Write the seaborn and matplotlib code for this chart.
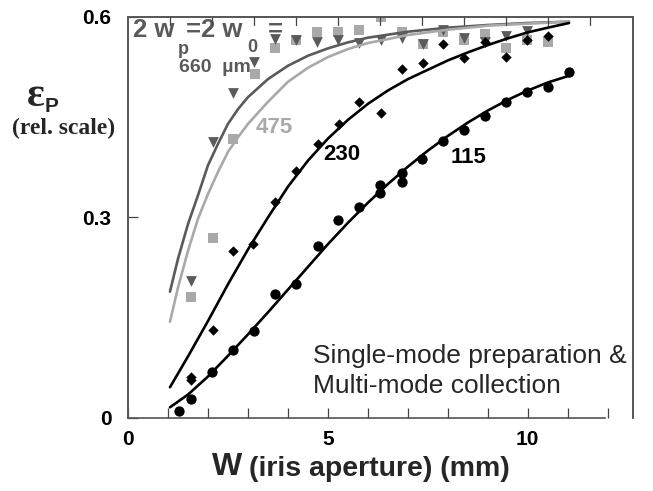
import pandas as pd
import seaborn as sns
import matplotlib
matplotlib.use("Agg")
import matplotlib.pyplot as plt
from matplotlib.lines import Line2D
from matplotlib.transforms import blended_transform_factory

# measured points (iris aperture W in mm, relative efficiency)
w_115 = [1.27, 1.58, 2.10, 2.62, 3.15, 3.68, 4.20, 4.75, 5.25, 5.78, 6.30, 6.30,
         6.85, 6.85, 7.35, 7.88, 8.40, 8.93, 9.45, 9.98, 10.50, 11.03]
eff_115 = [0.010, 0.028, 0.069, 0.102, 0.130, 0.186, 0.200, 0.257, 0.296, 0.316, 0.349, 0.337,
           0.367, 0.353, 0.388, 0.415, 0.431, 0.452, 0.473, 0.488, 0.495, 0.518]

w_230 = [1.58, 1.58, 2.12, 2.62, 3.13, 3.67, 4.20, 4.75, 5.28, 5.78, 6.33, 6.85,
         7.37, 7.88, 8.40, 8.93, 9.45, 9.98, 10.50]
eff_230 = [0.062, 0.057, 0.132, 0.250, 0.260, 0.323, 0.370, 0.410, 0.440, 0.473, 0.457, 0.522,
           0.531, 0.560, 0.539, 0.562, 0.540, 0.566, 0.572]

w_475 = [1.58, 2.12, 2.63, 3.17, 3.68, 4.20, 4.73, 5.25, 5.78, 6.33, 6.85, 7.37,
         7.88, 8.40, 8.93, 9.45, 9.98, 10.50]
eff_475 = [0.181, 0.270, 0.417, 0.515, 0.554, 0.566, 0.578, 0.578, 0.580, 0.600, 0.577, 0.560,
           0.577, 0.565, 0.575, 0.553, 0.566, 0.562]

w_660 = [1.58, 2.12, 2.63, 3.15, 3.68, 4.20, 4.73, 5.25, 5.78, 6.33, 6.85, 7.37,
         7.88, 8.40, 8.93, 9.45, 9.98]
eff_660 = [0.205, 0.413, 0.486, 0.533, 0.567, 0.566, 0.563, 0.565, 0.561, 0.565, 0.568, 0.560,
           0.580, 0.568, 0.562, 0.572, 0.579]

# fitted model curves
fit_x_115 = [1.05, 1.5, 2.0, 2.5, 3.0, 3.5, 4.0, 4.5, 5.0, 5.5, 6.0,
             6.5, 7.0, 7.5, 8.0, 8.5, 9.0, 9.5, 10.0, 10.5, 11.03]
fit_y_115 = [0.016, 0.035, 0.062, 0.093, 0.125, 0.158, 0.192, 0.226, 0.260, 0.292, 0.322,
             0.350, 0.376, 0.400, 0.422, 0.442, 0.460, 0.476, 0.490, 0.502, 0.512]

fit_x_230 = [1.05, 1.5, 2.0, 2.5, 3.0, 3.5, 4.0, 4.5, 5.0, 5.5, 6.0,
             6.5, 7.0, 7.5, 8.0, 8.5, 9.0, 9.5, 10.0, 10.5, 11.03]
fit_y_230 = [0.046, 0.092, 0.145, 0.200, 0.252, 0.300, 0.346, 0.385, 0.418, 0.446, 0.470,
             0.490, 0.507, 0.521, 0.535, 0.547, 0.558, 0.568, 0.577, 0.584, 0.591]

fit_x_475 = [1.05, 1.25, 1.5, 1.75, 2.0, 2.25, 2.5, 2.75, 3.0, 3.5, 4.0,
             4.5, 5.0, 5.5, 6.0, 7.0, 8.0, 9.0, 10.0, 11.03]
fit_y_475 = [0.144, 0.195, 0.250, 0.298, 0.335, 0.368, 0.398, 0.420, 0.440, 0.473, 0.503,
             0.524, 0.540, 0.552, 0.561, 0.573, 0.581, 0.587, 0.590, 0.593]

fit_x_660 = [1.05, 1.25, 1.5, 1.75, 2.0, 2.25, 2.5, 2.75, 3.0, 3.5, 4.0,
             4.5, 5.0, 5.5, 6.0, 7.0, 8.0, 9.0, 10.0, 11.03]
fit_y_660 = [0.189, 0.238, 0.290, 0.333, 0.378, 0.410, 0.440, 0.462, 0.480, 0.507, 0.527,
             0.542, 0.553, 0.562, 0.569, 0.578, 0.584, 0.588, 0.591, 0.593]

x_tick_labels = ["0", "", "", "", "", "5", "", "", "", "", "10", "", ""]
y_ticks = [0, 0.3, 0.6]
y_tick_labels = ["0", "0.3", "0.6"]
# top ticks of the original frame are spaced 1.05 bottom units apart
top_ticks = [1.05 * k for k in range(1, 12)]

DARK = "#5a5a5a"
LIGHT = "#a9a9a9"
FRAME = "#555555"

sns.set_style("white")
plt.rcParams["font.family"] = ["Liberation Sans", "DejaVu Sans"]

fig = plt.figure(figsize=(6.53, 4.91), dpi=100)
ax = fig.add_axes([0.196, 0.1487, 0.773, 0.8167])

sns.lineplot(x=fit_x_660, y=fit_y_660, ax=ax, color=DARK, lw=1.9, sort=False, estimator=None)
sns.lineplot(x=fit_x_475, y=fit_y_475, ax=ax, color=LIGHT, lw=1.9, sort=False, estimator=None)
sns.lineplot(x=fit_x_230, y=fit_y_230, ax=ax, color="black", lw=1.9, sort=False, estimator=None)
sns.lineplot(x=fit_x_115, y=fit_y_115, ax=ax, color="black", lw=1.9, sort=False, estimator=None)

sns.scatterplot(x=w_475, y=eff_475, ax=ax, marker="s", s=48, color=LIGHT, edgecolor=LIGHT, linewidth=0)
sns.scatterplot(x=w_660, y=eff_660, ax=ax, marker="v", s=60, color=DARK, edgecolor=DARK, linewidth=0)
sns.scatterplot(x=w_230, y=eff_230, ax=ax, marker="D", s=28, color="black", edgecolor="black", linewidth=0)
sns.scatterplot(x=w_115, y=eff_115, ax=ax, marker="o", s=55, color="black", edgecolor="black", linewidth=0)

ax.set_xlim(0, 12.625)
ax.set_ylim(0, 0.6)
ax.set_xticks(range(0, 13))
ax.set_xticklabels(x_tick_labels)
ax.set_yticks(y_ticks)
ax.set_yticklabels(y_tick_labels)
ax.tick_params(axis="both", direction="in", length=7, width=0.9, colors="#444444",
               labelsize=15, labelcolor="black", bottom=True, left=True)
ax.tick_params(axis="x", pad=9)
ax.tick_params(axis="y", pad=12)
for lab in ax.get_xticklabels() + ax.get_yticklabels():
    lab.set_fontweight("bold")

for side in ["left", "bottom", "top", "right"]:
    ax.spines[side].set_color(FRAME)
    ax.spines[side].set_linewidth(1.2)
ax.spines["bottom"].set_bounds(0, 11.93)

# left, top and right frame lines and the top ticks, added at figure level
fig.add_artist(Line2D([0, 0, 1, 1], [0, 1, 1, 0], transform=ax.transAxes,
                      color=FRAME, lw=1.2, zorder=10))
top_tf = blended_transform_factory(ax.transData, ax.transAxes)
for t in top_ticks:
    fig.add_artist(Line2D([t, t], [1, 0.98], transform=top_tf, color="#444444", lw=0.9, zorder=10))

# annotations
fig.text(133 / 653, 1 - 30 / 491, "2 w", color=DARK, fontsize=18.5, fontweight="bold", va="center")
fig.text(186 / 653, 1 - 30 / 491, "=2 w", color=DARK, fontsize=18.5, fontweight="bold", va="center")
fig.text(268 / 653, 1 - 30 / 491, "=", color=DARK, fontsize=18.5, fontweight="bold", va="center")
fig.text(178 / 653, 1 - 49 / 491, "p", color=DARK, fontsize=13, fontweight="bold", va="center")
fig.text(247 / 653, 1 - 48 / 491, "0", color=DARK, fontsize=13, fontweight="bold", va="center")
fig.text(179 / 653, 1 - 67 / 491, "660  \u00b5m", color=DARK, fontsize=14, fontweight="bold", va="center")
fig.text(256 / 653, 1 - 128 / 491, "475", color=LIGHT, fontsize=16, fontweight="bold", va="center")
fig.text(323 / 653, 1 - 155 / 491, "230", color="black", fontsize=16, fontweight="bold", va="center")
fig.text(451 / 653, 1 - 157 / 491, "115", color="black", fontsize=16, fontweight="bold", va="center")
fig.text(313 / 653, 1 - 356 / 491, "Single-mode preparation &", fontsize=19, va="center")
fig.text(313 / 653, 1 - 386 / 491, "Multi-mode collection", fontsize=19, va="center")

fig.text(27 / 653, 1 - 96 / 491, "\u03b5", family=["Liberation Serif", "DejaVu Serif"],
         fontsize=30, fontweight="bold", va="center")
fig.text(45 / 653, 1 - 106 / 491, "P", fontsize=15, fontweight="bold", va="center")
fig.text(12 / 653, 1 - 128 / 491, "(rel. scale)", family=["Liberation Serif", "DejaVu Serif"],
         fontsize=17, fontweight="bold", va="center")

fig.text(212 / 653, 1 - 467 / 491, "W", fontsize=23, fontweight="bold", va="center")
fig.text(249 / 653, 1 - 469 / 491, "(iris aperture) (mm)", fontsize=20.5, fontweight="bold", va="center")

plt.savefig("out.png", dpi=100)
